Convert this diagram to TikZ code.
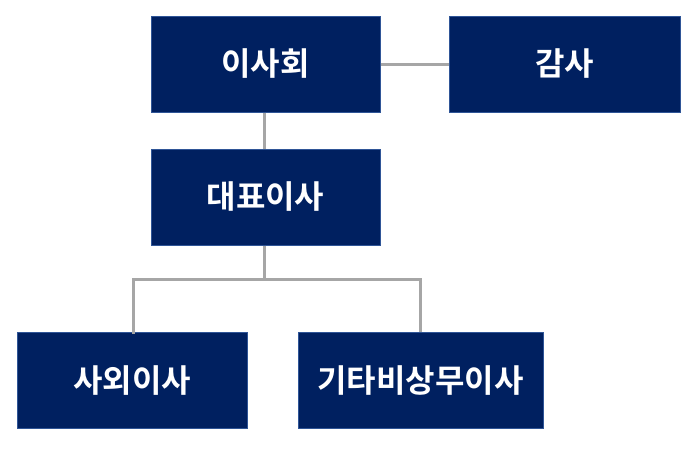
\documentclass[tikz,border=0pt]{standalone}
\usepackage{fontspec}
\newfontfamily\kr{Noto Sans CJK KR Bold}
\definecolor{navy}{HTML}{002060}
\definecolor{navyedge}{HTML}{2F5597}
\definecolor{conn}{HTML}{A6A6A6}
\begin{document}
\begin{tikzpicture}[x=1pt,y=-1pt,
  orgbox/.style={draw=navyedge, line width=1pt, fill=navy, text=white, font=\kr\fontsize{32}{36}\selectfont, inner sep=0pt},
  link/.style={draw=conn, line width=3pt}]
\useasboundingbox (0,0) rectangle (692,456);
\node[orgbox, minimum width=229pt, minimum height=96pt] (board) at (265.5,64) {이사회};
\node[orgbox, minimum width=231pt, minimum height=96pt] (audit) at (564.5,64) {감사};
\node[orgbox, minimum width=229pt, minimum height=96pt] (ceo) at (265.5,197) {대표이사};
\node[orgbox, minimum width=230pt, minimum height=96pt] (outside) at (132,380.5) {사외이사};
\node[orgbox, minimum width=245pt, minimum height=96pt] (nonexec) at (420.5,380.5) {기타비상무이사};
\coordinate (j) at (264.5,279);
\draw[link] (board.east) -- (audit.west);
\draw[link] (board.south -| j) -- (ceo.north -| j);
\draw[link] (ceo.south -| j) -- (j);
\draw[link, line cap=rect] (j) -| ([xshift=1pt]outside.north);
\draw[link] (j) -| (nonexec.north);
\end{tikzpicture}
\end{document}
